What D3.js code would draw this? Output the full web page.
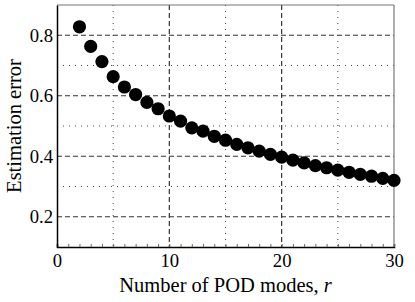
<!DOCTYPE html>
<html>
<head>
<meta charset="utf-8">
<script src="https://cdn.jsdelivr.net/npm/d3@7"></script>
<style>
  body { margin: 0; background: #fff; }
</style>
</head>
<body>
<div id="chart"></div>
<script>
// Data
var modes = [2, 3, 4, 5, 6, 7, 8, 9, 10, 11, 12, 13, 14, 15, 16, 17, 18, 19, 20, 21, 22, 23, 24, 25, 26, 27, 28, 29, 30];
var errors = [0.828, 0.763, 0.713, 0.663, 0.629, 0.604, 0.578, 0.557, 0.533, 0.516, 0.494, 0.483, 0.466, 0.453, 0.439, 0.428, 0.417, 0.406, 0.397, 0.387, 0.378, 0.369, 0.362, 0.354, 0.347, 0.340, 0.334, 0.327, 0.320];
var xTicks = [0, 10, 20, 30];
var xMinorGrid = [5, 15, 25];
var yTicks = [0.2, 0.4, 0.6, 0.8];
var yMinorGrid = [0.3, 0.5, 0.7];

var W = 415, H = 302;
var margin = {top: 5, right: 21, bottom: 55, left: 57};
var width = W - margin.left - margin.right,
    height = H - margin.top - margin.bottom;
var serif = "'Liberation Serif'";

var x = d3.scaleLinear().domain([0, 30]).range([0, width]);
var y = d3.scaleLinear().domain([0.1, 0.9]).range([height, 0]);

var svg = d3.select("#chart").append("svg")
    .attr("width", W)
    .attr("height", H);

var g = svg.append("g")
    .attr("transform", "translate(" + margin.left + "," + margin.top + ")");

// Grid: dashed majors, dotted minors
g.selectAll(".xmajor").data(xTicks.slice(1, -1)).enter().append("line")
    .attr("x1", x).attr("x2", x).attr("y1", 0).attr("y2", height)
    .attr("stroke", "#333").attr("stroke-width", 1.2).attr("stroke-dasharray", "5,3");
g.selectAll(".ymajor").data(yTicks).enter().append("line")
    .attr("x1", 0).attr("x2", width).attr("y1", y).attr("y2", y)
    .attr("stroke", "#333").attr("stroke-width", 1.2).attr("stroke-dasharray", "5,3");
g.selectAll(".xminor").data(xMinorGrid).enter().append("line")
    .attr("x1", x).attr("x2", x).attr("y1", 0).attr("y2", height)
    .attr("stroke", "#444").attr("stroke-width", 1).attr("stroke-dasharray", "1,5");
g.selectAll(".yminor").data(yMinorGrid).enter().append("line")
    .attr("x1", 0).attr("x2", width).attr("y1", y).attr("y2", y)
    .attr("stroke", "#444").attr("stroke-width", 1).attr("stroke-dasharray", "1,5");

// Frame: top and right in grey
g.append("line").attr("x1", 0).attr("x2", width).attr("y1", 0).attr("y2", 0)
    .attr("stroke", "#777").attr("stroke-width", 1.2);
g.append("line").attr("x1", width).attr("x2", width).attr("y1", 0).attr("y2", height)
    .attr("stroke", "#777").attr("stroke-width", 1.2);

// Axes
var xAxis = g.append("g")
    .attr("transform", "translate(0," + height + ")")
    .call(d3.axisBottom(x).tickValues(d3.range(0, 31, 1)).tickSize(-3).tickFormat(""));
xAxis.select(".domain").attr("stroke", "#000").attr("stroke-width", 1.5);
xAxis.selectAll(".tick line").attr("stroke", "#666");

var xLabels = g.append("g")
    .attr("transform", "translate(0," + height + ")")
    .call(d3.axisBottom(x).tickValues(xTicks).tickSize(0).tickPadding(7).tickFormat(d3.format("d")));
xLabels.select(".domain").remove();

var yAxis = g.append("g")
    .call(d3.axisLeft(y).tickValues(yTicks).tickSize(0).tickPadding(4).tickFormat(d3.format(".1f")));
yAxis.select(".domain").attr("stroke", "#000").attr("stroke-width", 1.5);

// Points
g.selectAll(".dot").data(modes).enter().append("circle")
    .attr("cx", function (d) {return x(d);})
    .attr("cy", function (d, i) {return y(errors[i]);})
    .attr("r", 6.6)
    .attr("fill", "#000");

// Axis titles
var xTitle = svg.append("text")
    .attr("class", "title")
    .attr("x", margin.left + width / 2)
    .attr("y", 292)
    .attr("text-anchor", "middle");
xTitle.append("tspan").text("Number of POD modes, ");
xTitle.append("tspan").style("font-style", "italic").text("r");

svg.append("text")
    .attr("class", "title")
    .attr("transform", "translate(21," + (margin.top + height / 2) + ") rotate(-90)")
    .attr("text-anchor", "middle")
    .text("Estimation error");

// Serif text everywhere
svg.selectAll("text")
    .style("font-family", serif)
    .style("font-size", "18.7px")
    .attr("fill", "#000");
svg.selectAll("text.title")
    .style("font-size", "20.5px");
</script>
</body>
</html>
